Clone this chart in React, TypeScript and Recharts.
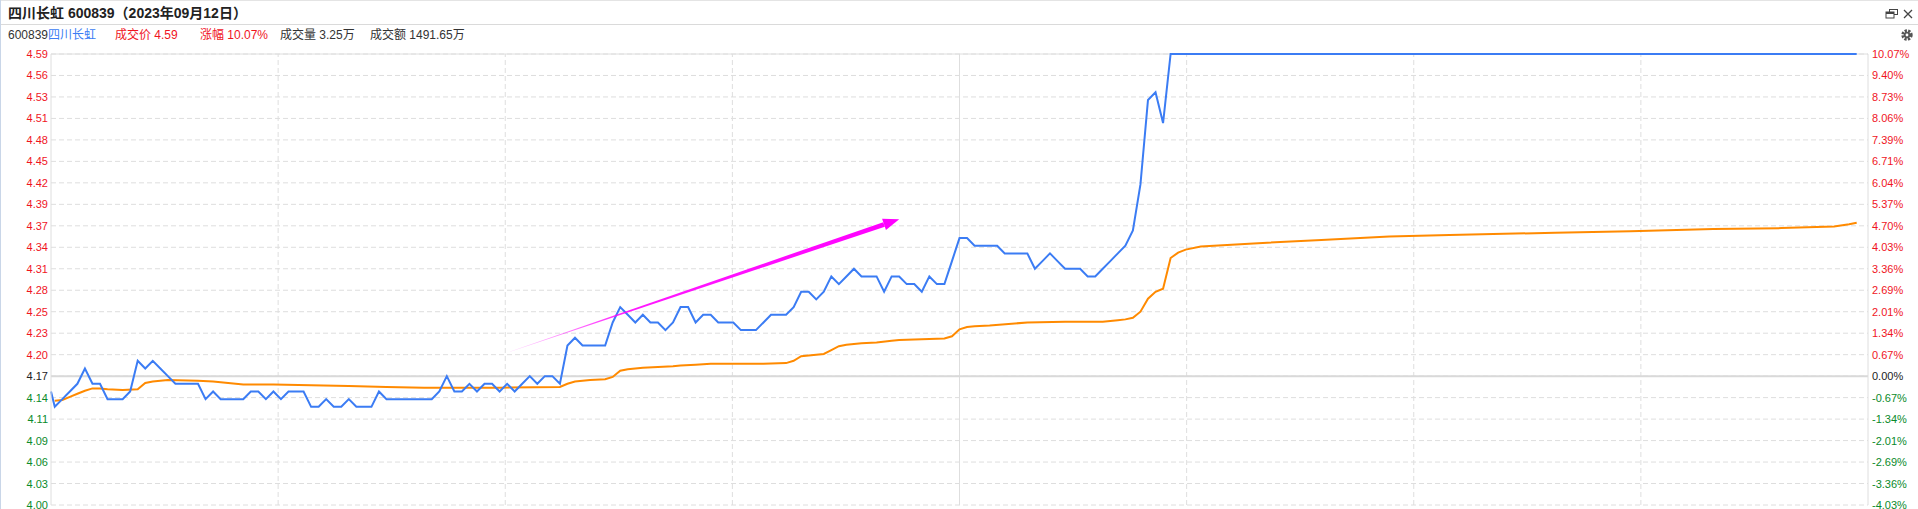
import React from "react";
import { LineChart, Line, XAxis, YAxis, CartesianGrid, ReferenceLine } from "recharts";

// price axis: previous close 4.17, limit up 4.59
const prevClose = 4.17;
const priceTicks = [
    4.002, 4.03, 4.058, 4.086, 4.114, 4.142, 4.17, 4.198, 4.226, 4.254, 4.282,
    4.31, 4.338, 4.366, 4.394, 4.422, 4.45, 4.478, 4.506, 4.534, 4.562, 4.59,
];
const priceLabels = [
    "4.00", "4.03", "4.06", "4.09", "4.11", "4.14", "4.17", "4.20", "4.23", "4.25", "4.28",
    "4.31", "4.34", "4.37", "4.39", "4.42", "4.45", "4.48", "4.51", "4.53", "4.56", "4.59",
];
const pctLabels = [
    "-4.03%", "-3.36%", "-2.69%", "-2.01%", "-1.34%", "-0.67%", "0.00%", "0.67%", "1.34%", "2.01%", "2.69%",
    "3.36%", "4.03%", "4.70%", "5.37%", "6.04%", "6.71%", "7.39%", "8.06%", "8.73%", "9.40%", "10.07%",
];

// minute prices, 09:31 onwards (one per minute)
const openPrice = 4.15;
const minutePrices = [
    4.13, 4.14, 4.15, 4.16, 4.18, 4.16, 4.16, 4.14, 4.14, 4.14,
    4.15, 4.19, 4.18, 4.19, 4.18, 4.17, 4.16, 4.16, 4.16, 4.16,
    4.14, 4.15, 4.14, 4.14, 4.14, 4.14, 4.15, 4.15, 4.14, 4.15,
    4.14, 4.15, 4.15, 4.15, 4.13, 4.13, 4.14, 4.13, 4.13, 4.14,
    4.13, 4.13, 4.13, 4.15, 4.14, 4.14, 4.14, 4.14, 4.14, 4.14,
    4.14, 4.15, 4.17, 4.15, 4.15, 4.16, 4.15, 4.16, 4.16, 4.15,
    4.16, 4.15, 4.16, 4.17, 4.16, 4.17, 4.17, 4.16, 4.21, 4.22,
    4.21, 4.21, 4.21, 4.21, 4.24, 4.26, 4.25, 4.24, 4.25, 4.24,
    4.24, 4.23, 4.24, 4.26, 4.26, 4.24, 4.25, 4.25, 4.24, 4.24,
    4.24, 4.23, 4.23, 4.23, 4.24, 4.25, 4.25, 4.25, 4.26, 4.28,
    4.28, 4.27, 4.28, 4.3, 4.29, 4.3, 4.31, 4.3, 4.3, 4.3,
    4.28, 4.3, 4.3, 4.29, 4.29, 4.28, 4.3, 4.29, 4.29, 4.32,
    4.35, 4.35, 4.34, 4.34, 4.34, 4.34, 4.33, 4.33, 4.33, 4.33,
    4.31, 4.32, 4.33, 4.32, 4.31, 4.31, 4.31, 4.3, 4.3, 4.31,
    4.32, 4.33, 4.34, 4.36, 4.42, 4.53, 4.54, 4.5, 4.59,
];
// sealed at limit up until the last minute
const lastMinute = 240;
const lastPrice = 4.59;

// average price line (minute, value)
const avgMinutes = [
    1, 2, 3, 4, 5, 6, 7, 8, 10, 12, 13, 14, 15, 16, 20, 22, 24, 26, 30, 35,
    40, 45, 50, 55, 60, 68, 69, 70, 71, 72, 74, 75, 76, 77, 79, 81, 83, 84, 86, 88,
    91, 95, 98, 99, 100, 101, 102, 103, 104, 105, 106, 107, 108, 110, 112, 113, 116, 119, 120, 121,
    122, 123, 125, 130, 135, 140, 142, 143, 144, 145, 146, 147, 148, 149, 150, 151, 153, 160, 169, 178,
    186, 200, 210, 221, 230, 237, 239, 240,
];
const avgPrices = [
    4.138, 4.139, 4.143, 4.147, 4.151, 4.154, 4.154, 4.153, 4.152, 4.153, 4.161, 4.163, 4.164, 4.165, 4.164, 4.163, 4.161, 4.159, 4.159, 4.158,
    4.157, 4.156, 4.155, 4.155, 4.155, 4.156, 4.16, 4.163, 4.164, 4.165, 4.166, 4.169, 4.177, 4.179, 4.181, 4.182, 4.183, 4.184, 4.185, 4.186,
    4.186, 4.186, 4.187, 4.19, 4.196, 4.197, 4.198, 4.199, 4.204, 4.209, 4.211, 4.212, 4.213, 4.214, 4.216, 4.217, 4.218, 4.219, 4.222, 4.231,
    4.234, 4.235, 4.236, 4.24, 4.241, 4.241, 4.243, 4.244, 4.246, 4.254, 4.271, 4.28, 4.284, 4.324, 4.331, 4.335, 4.339, 4.343, 4.3475, 4.352,
    4.354, 4.357, 4.359, 4.362, 4.363, 4.365, 4.368, 4.37,
];

// hand-drawn arrow annotation (minute, price)
const arrowFrom = { minute: 61.4, price: 4.202 };
const arrowTo = { minute: 113, price: 4.3745 };

const BLUE = "#3b7cf4";
const ORANGE = "#ff8a00";
const RED = "#f0141e";
const GREEN = "#0a8a2a";
const GRID = "#dedede";
const FONT = "'Liberation Sans', Arial, 'Noto Sans CJK SC', sans-serif";

const xDomain: [number, number] = [0.5, 241.5];

const priceData = [
    { t: 0.5, price: openPrice },
    ...minutePrices.map((p, i) => ({ t: i + 1, price: p })),
    { t: lastMinute, price: lastPrice },
];
const avgData = avgMinutes.map((m, i) => ({ t: m, avg: avgPrices[i] }));

function tickColor(v: number) {
    if (Math.abs(v - prevClose) < 0.0005) return "#222";
    return v > prevClose ? RED : GREEN;
}

function LeftTick(props: any) {
    const { x, y, payload, index } = props;
    return (
        <text x={x} y={y} dy={4} textAnchor="end" fontSize={11} fontFamily={FONT} fill={tickColor(payload.value)}>
            {priceLabels[index]}
        </text>
    );
}

function RightTick(props: any) {
    const { x, y, payload, index } = props;
    return (
        <text x={x} y={y} dy={4} textAnchor="start" fontSize={11} fontFamily={FONT} fill={tickColor(payload.value)}>
            {pctLabels[index]}
        </text>
    );
}

function ArrowShape(props: any) {
    const { x1, y1, x2, y2 } = props;
    if ([x1, y1, x2, y2].some((v) => typeof v !== "number" || isNaN(v))) return <g />;
    const dx = x2 - x1;
    const dy = y2 - y1;
    const len = Math.sqrt(dx * dx + dy * dy);
    const ux = dx / len;
    const uy = dy / len;
    const nx = -uy;
    const ny = ux;
    const headLen = 16;
    const headHalf = 6;
    const bx = x2 - ux * headLen;
    const by = y2 - uy * headLen;
    const shaft = [
        [x1 + nx * 0.2, y1 + ny * 0.2],
        [bx + nx * 2.4, by + ny * 2.4],
        [bx - nx * 2.4, by - ny * 2.4],
        [x1 - nx * 0.2, y1 - ny * 0.2],
    ];
    const head = [
        [x2, y2],
        [bx + nx * headHalf, by + ny * headHalf],
        [bx - nx * headHalf, by - ny * headHalf],
    ];
    const pts = (a: number[][]) => a.map((p) => p.join(",")).join(" ");
    return (
        <g>
            <defs>
                <linearGradient id="arrowFade" gradientUnits="userSpaceOnUse" x1={x1} y1={y1} x2={x2} y2={y2}>
                    <stop offset="0" stopColor="#ff00ff" stopOpacity={0.15} />
                    <stop offset="0.3" stopColor="#ff00ff" stopOpacity={0.9} />
                    <stop offset="1" stopColor="#ff00ff" stopOpacity={1} />
                </linearGradient>
            </defs>
            <polygon points={pts(shaft)} fill="url(#arrowFade)" />
            <polygon points={pts(head)} fill="#ff00ff" />
        </g>
    );
}

function Header() {
    const row2: React.CSSProperties = { position: "absolute", top: 27, lineHeight: "16px", fontSize: 12, whiteSpace: "nowrap" };
    return (
        <>
            <div style={{ position: "absolute", left: 0, top: 0, width: 1918, height: 25, borderTop: "1px solid #e4e4e4", borderBottom: "1px solid #dadada", boxSizing: "border-box" }} />
            <div style={{ position: "absolute", left: 7, top: 4, fontSize: 14, lineHeight: "18px", fontWeight: 700, color: "#222", whiteSpace: "nowrap" }}>
                四川长虹 600839（2023年09月12日）
            </div>
            <div style={{ ...row2, left: 7, color: "#333" }}>
                600839<span style={{ color: BLUE }}>四川长虹</span>
            </div>
            <div style={{ ...row2, left: 114, color: RED }}>成交价 4.59</div>
            <div style={{ ...row2, left: 199, color: RED }}>涨幅 10.07%</div>
            <div style={{ ...row2, left: 279, color: "#333" }}>成交量 3.25万</div>
            <div style={{ ...row2, left: 369, color: "#333" }}>成交额 1491.65万</div>
            <svg style={{ position: "absolute", left: 1880, top: 6 }} width={38} height={38}>
                {/* restore */}
                <rect x={8.5} y={3.5} width={8} height={5} fill="none" stroke="#444" />
                <rect x={5} y={6} width={8} height={6} fill="#fff" stroke="#444" />
                <rect x={5} y={6} width={8} height={2} fill="#444" />
                {/* close */}
                <path d="M23 4 L31 12 M31 4 L23 12" stroke="#444" strokeWidth={1.3} />
                {/* settings gear */}
                <circle cx={26} cy={29} r={4.2} fill="none" stroke="#555" strokeWidth={3} strokeDasharray="2.2 1.2" />
                <circle cx={26} cy={29} r={3.2} fill="#555" />
                <circle cx={26} cy={29} r={1.4} fill="#fff" />
            </svg>
        </>
    );
}

export default function App() {
    const span = xDomain[1] - xDomain[0];
    const vLines = [1, 2, 3, 4, 5, 6, 7].map((m) => xDomain[0] + (span * m) / 8);

    return (
        <div style={{ position: "absolute", left: 0, top: 0, width: 1918, height: 509, background: "#fff", fontFamily: FONT, overflow: "hidden", borderLeft: "1px solid #c9d6e8", boxSizing: "border-box" }}>
            <Header />
            <div style={{ position: "absolute", left: -1, top: 0 }}>
                <LineChart width={1918} height={509} margin={{ top: 54, right: 0, bottom: 4, left: 0 }}>
                    <XAxis dataKey="t" type="number" domain={xDomain} hide />
                    <YAxis
                        yAxisId="left"
                        orientation="left"
                        width={51}
                        domain={[priceTicks[0], priceTicks[priceTicks.length - 1]]}
                        ticks={priceTicks}
                        interval={0}
                        tickSize={0}
                        tickMargin={3}
                        tickLine={false}
                        axisLine={{ stroke: GRID }}
                        tick={<LeftTick />}
                    />
                    <YAxis
                        yAxisId="right"
                        orientation="right"
                        width={50}
                        domain={[priceTicks[0], priceTicks[priceTicks.length - 1]]}
                        ticks={priceTicks}
                        interval={0}
                        tickSize={0}
                        tickMargin={4}
                        tickLine={false}
                        axisLine={{ stroke: GRID }}
                        tick={<RightTick />}
                    />
                    <CartesianGrid yAxisId="left" vertical={false} stroke={GRID} strokeDasharray="5 3" />
                    {vLines.map((x, i) => (
                        <ReferenceLine
                            key={x}
                            yAxisId="left"
                            x={x}
                            stroke={GRID}
                            strokeDasharray={i === 3 ? undefined : "5 3"}
                        />
                    ))}
                    <ReferenceLine yAxisId="left" y={priceTicks[priceTicks.length - 1]} stroke={GRID} />
                    <ReferenceLine yAxisId="left" y={prevClose} stroke="#d9d9d9" strokeWidth={2} />
                    <Line
                        yAxisId="right"
                        data={avgData}
                        dataKey="avg"
                        type="linear"
                        stroke={ORANGE}
                        strokeWidth={2}
                        dot={false}
                        isAnimationActive={false}
                    />
                    <Line
                        yAxisId="left"
                        data={priceData}
                        dataKey="price"
                        type="linear"
                        stroke={BLUE}
                        strokeWidth={2}
                        dot={false}
                        isAnimationActive={false}
                    />
                    <ReferenceLine
                        yAxisId="left"
                        segment={[
                            { x: arrowFrom.minute, y: arrowFrom.price },
                            { x: arrowTo.minute, y: arrowTo.price },
                        ]}
                        shape={ArrowShape}
                    />
                </LineChart>
            </div>
        </div>
    );
}
